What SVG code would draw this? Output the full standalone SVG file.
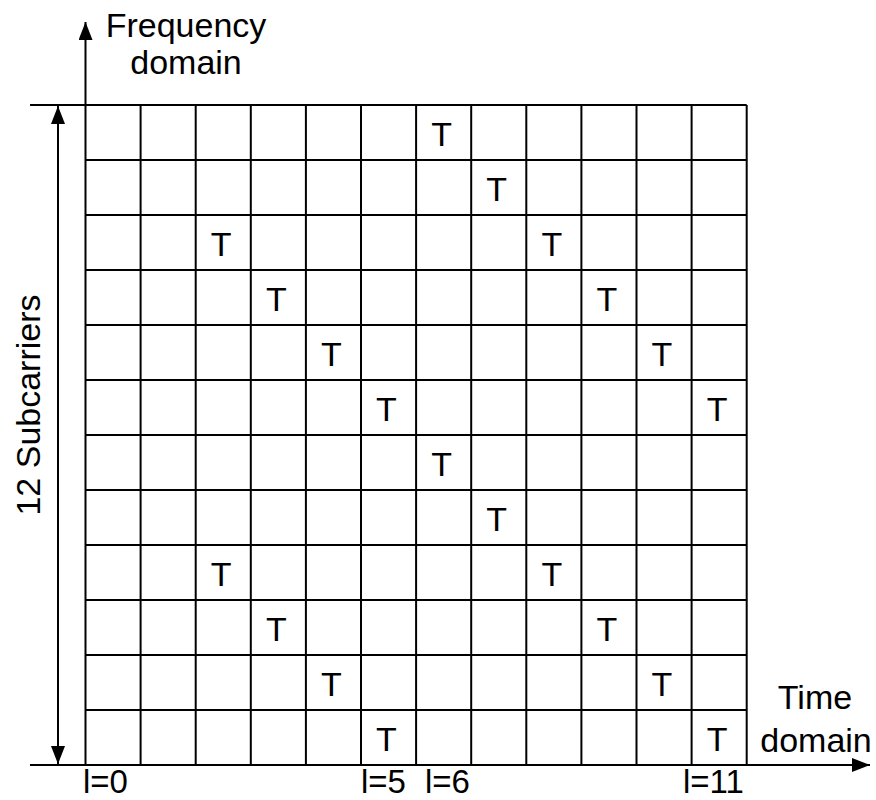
<svg xmlns="http://www.w3.org/2000/svg" width="876" height="800" viewBox="0 0 876 800">
<style>
.ln{stroke:#000;stroke-width:2;fill:none}
.t{font-family:"Liberation Sans",Arial,sans-serif;font-size:34px;fill:#000}
.m{text-anchor:middle}
.ax{font-size:33px}
</style>
<defs>
<marker id="ah" viewBox="0 0 18 14" refX="18" refY="7" markerWidth="18" markerHeight="14" markerUnits="userSpaceOnUse" orient="auto">
<path d="M0,0 L18,7 L0,14 Z" fill="#000"/>
</marker>
</defs>
<rect width="876" height="800" fill="#fff"/>
<g id="grid" class="ln">
<path d="M30,105 H746.7 M85.5,160 H746.7 M85.5,215 H746.7 M85.5,270 H746.7 M85.5,325 H746.7 M85.5,380 H746.7 M85.5,435 H746.7 M85.5,490 H746.7 M85.5,545 H746.7 M85.5,600 H746.7 M85.5,655 H746.7 M85.5,710 H746.7"/>
<path d="M140.6,105 V765 M195.7,105 V765 M250.8,105 V765 M305.9,105 V765 M361,105 V765 M416.1,105 V765 M471.2,105 V765 M526.3,105 V765 M581.4,105 V765 M636.5,105 V765 M691.6,105 V765 M746.7,105 V765"/>
</g>
<g id="connectors" class="ln">
<path d="M85.5,765 V22" marker-end="url(#ah)"/>
<path d="M30,765 H870" marker-end="url(#ah)"/>
<path d="M58,420 V106" marker-end="url(#ah)"/>
<path d="M58,420 V764" marker-end="url(#ah)"/>
</g>
<g id="marks" class="t m">
<text x="441.6" y="146">T</text>
<text x="496.7" y="201">T</text>
<text x="221.2" y="256">T</text><text x="551.8" y="256">T</text>
<text x="276.3" y="311">T</text><text x="606.9" y="311">T</text>
<text x="331.4" y="366">T</text><text x="662" y="366">T</text>
<text x="386.5" y="421">T</text><text x="717.1" y="421">T</text>
<text x="441.6" y="476">T</text>
<text x="496.7" y="531">T</text>
<text x="221.2" y="586">T</text><text x="551.8" y="586">T</text>
<text x="276.3" y="641">T</text><text x="606.9" y="641">T</text>
<text x="331.4" y="696">T</text><text x="662" y="696">T</text>
<text x="386.5" y="751">T</text><text x="717.1" y="751">T</text>
</g>
<g id="labels" class="t">
<text class="m" x="186" y="37">Frequency</text>
<text class="m" x="186" y="74">domain</text>
<text class="m" x="815" y="709">Time</text>
<text class="m" x="816" y="752">domain</text>
<text class="ax" x="83" y="793">l=0</text>
<text class="ax" x="361" y="793">l=5</text>
<text class="ax" x="425" y="793">l=6</text>
<text class="ax" x="683" y="793">l=11</text>
<text class="m" transform="translate(40,405) rotate(-90)">12 Subcarriers</text>
</g>
</svg>
